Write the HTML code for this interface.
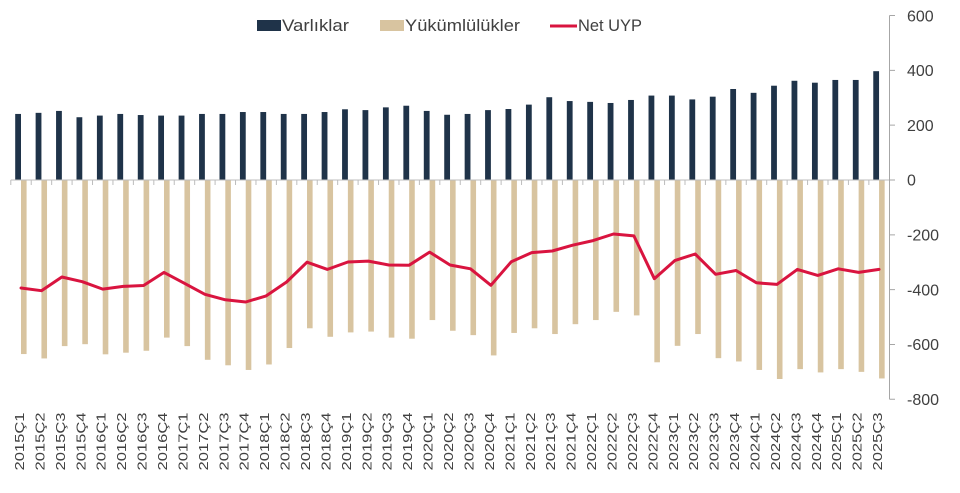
<!DOCTYPE html>
<html><head><meta charset="utf-8"><style>
html,body{margin:0;padding:0;background:#fff;}
svg{display:block;font-family:"Liberation Sans",sans-serif;}
</style></head><body>
<svg width="960" height="493" viewBox="0 0 960 493" xmlns="http://www.w3.org/2000/svg">
<rect width="960" height="493" fill="#fff"/>
<!-- legend -->
<rect x="257" y="20" width="24" height="11" fill="#1f3349"/>
<text x="282" y="31" font-size="17" fill="#404040" textLength="67" lengthAdjust="spacingAndGlyphs">Varlıklar</text>
<rect x="380" y="20" width="24" height="11" fill="#d8c4a0"/>
<text x="405" y="31" font-size="17" fill="#404040" textLength="115" lengthAdjust="spacingAndGlyphs">Yükümlülükler</text>
<line x1="550" y1="26" x2="577" y2="26" stroke="#d9143f" stroke-width="3"/>
<text x="578" y="31" font-size="17" fill="#404040" textLength="64" lengthAdjust="spacingAndGlyphs">Net UYP</text>

<!-- bars -->
<g transform="translate(0,180) scale(1,-0.2741)">
<g fill="#1f3349">
<rect x="15.2" y="0" width="5.8" height="241"/>
<rect x="35.63" y="0" width="5.8" height="245"/>
<rect x="56.06" y="0" width="5.8" height="252"/>
<rect x="76.49" y="0" width="5.8" height="229"/>
<rect x="96.92" y="0" width="5.8" height="235"/>
<rect x="117.35" y="0" width="5.8" height="241"/>
<rect x="137.78" y="0" width="5.8" height="237"/>
<rect x="158.21" y="0" width="5.8" height="235"/>
<rect x="178.64" y="0" width="5.8" height="235"/>
<rect x="199.07" y="0" width="5.8" height="241"/>
<rect x="219.5" y="0" width="5.8" height="241"/>
<rect x="239.93" y="0" width="5.8" height="248"/>
<rect x="260.36" y="0" width="5.8" height="248"/>
<rect x="280.79" y="0" width="5.8" height="241"/>
<rect x="301.22" y="0" width="5.8" height="241"/>
<rect x="321.65" y="0" width="5.8" height="248"/>
<rect x="342.08" y="0" width="5.8" height="258"/>
<rect x="362.51" y="0" width="5.8" height="255"/>
<rect x="382.94" y="0" width="5.8" height="265"/>
<rect x="403.37" y="0" width="5.8" height="271"/>
<rect x="423.8" y="0" width="5.8" height="252"/>
<rect x="444.23" y="0" width="5.8" height="238"/>
<rect x="464.66" y="0" width="5.8" height="241"/>
<rect x="485.09" y="0" width="5.8" height="255"/>
<rect x="505.52" y="0" width="5.8" height="259"/>
<rect x="525.95" y="0" width="5.8" height="275"/>
<rect x="546.38" y="0" width="5.8" height="302"/>
<rect x="566.81" y="0" width="5.8" height="288"/>
<rect x="587.24" y="0" width="5.8" height="285"/>
<rect x="607.67" y="0" width="5.8" height="281"/>
<rect x="628.1" y="0" width="5.8" height="292"/>
<rect x="648.53" y="0" width="5.8" height="308"/>
<rect x="668.96" y="0" width="5.8" height="308"/>
<rect x="689.39" y="0" width="5.8" height="294"/>
<rect x="709.82" y="0" width="5.8" height="304"/>
<rect x="730.25" y="0" width="5.8" height="332"/>
<rect x="750.68" y="0" width="5.8" height="318"/>
<rect x="771.11" y="0" width="5.8" height="344"/>
<rect x="791.54" y="0" width="5.8" height="362"/>
<rect x="811.97" y="0" width="5.8" height="355"/>
<rect x="832.4" y="0" width="5.8" height="365"/>
<rect x="852.83" y="0" width="5.8" height="365"/>
<rect x="873.26" y="0" width="5.8" height="397"/>
</g>
<g fill="#d8c4a0">
<rect x="21" y="-635" width="5.6" height="635"/>
<rect x="41.43" y="-651" width="5.6" height="651"/>
<rect x="61.86" y="-606" width="5.6" height="606"/>
<rect x="82.29" y="-599" width="5.6" height="599"/>
<rect x="102.72" y="-636" width="5.6" height="636"/>
<rect x="123.15" y="-630" width="5.6" height="630"/>
<rect x="143.58" y="-623" width="5.6" height="623"/>
<rect x="164.01" y="-575" width="5.6" height="575"/>
<rect x="184.44" y="-606" width="5.6" height="606"/>
<rect x="204.87" y="-656" width="5.6" height="656"/>
<rect x="225.3" y="-676" width="5.6" height="676"/>
<rect x="245.73" y="-693" width="5.6" height="693"/>
<rect x="266.16" y="-673" width="5.6" height="673"/>
<rect x="286.59" y="-613" width="5.6" height="613"/>
<rect x="307.02" y="-541" width="5.6" height="541"/>
<rect x="327.45" y="-572" width="5.6" height="572"/>
<rect x="347.88" y="-556" width="5.6" height="556"/>
<rect x="368.31" y="-553" width="5.6" height="553"/>
<rect x="388.74" y="-575" width="5.6" height="575"/>
<rect x="409.17" y="-579" width="5.6" height="579"/>
<rect x="429.6" y="-511" width="5.6" height="511"/>
<rect x="450.03" y="-550" width="5.6" height="550"/>
<rect x="470.46" y="-566" width="5.6" height="566"/>
<rect x="490.89" y="-640" width="5.6" height="640"/>
<rect x="511.32" y="-558" width="5.6" height="558"/>
<rect x="531.75" y="-541" width="5.6" height="541"/>
<rect x="552.18" y="-562" width="5.6" height="562"/>
<rect x="572.61" y="-526" width="5.6" height="526"/>
<rect x="593.04" y="-511" width="5.6" height="511"/>
<rect x="613.47" y="-481" width="5.6" height="481"/>
<rect x="633.9" y="-494" width="5.6" height="494"/>
<rect x="654.33" y="-665" width="5.6" height="665"/>
<rect x="674.76" y="-605" width="5.6" height="605"/>
<rect x="695.19" y="-562" width="5.6" height="562"/>
<rect x="715.62" y="-650" width="5.6" height="650"/>
<rect x="736.05" y="-662" width="5.6" height="662"/>
<rect x="756.48" y="-693" width="5.6" height="693"/>
<rect x="776.91" y="-726" width="5.6" height="726"/>
<rect x="797.34" y="-690" width="5.6" height="690"/>
<rect x="817.77" y="-702" width="5.6" height="702"/>
<rect x="838.2" y="-690" width="5.6" height="690"/>
<rect x="858.63" y="-700" width="5.6" height="700"/>
<rect x="879.06" y="-724" width="5.6" height="724"/>
</g>
</g>

<!-- x axis line and ticks -->
<g stroke="#bdbdbd" stroke-width="1">
<line x1="10.8" y1="180" x2="889.5" y2="180"/>
<path d="M10.8 180v5M31.23 180v5M51.66 180v5M72.09 180v5M92.52 180v5M112.95 180v5M133.38 180v5M153.81 180v5M174.24 180v5M194.67 180v5M215.1 180v5M235.53 180v5M255.96 180v5M276.39 180v5M296.82 180v5M317.25 180v5M337.68 180v5M358.11 180v5M378.54 180v5M398.97 180v5M419.4 180v5M439.83 180v5M460.26 180v5M480.69 180v5M501.12 180v5M521.55 180v5M541.98 180v5M562.41 180v5M582.84 180v5M603.27 180v5M623.7 180v5M644.13 180v5M664.56 180v5M684.99 180v5M705.42 180v5M725.85 180v5M746.28 180v5M766.71 180v5M787.14 180v5M807.57 180v5M828 180v5M848.43 180v5M868.86 180v5"/>
</g>
<!-- y axis -->
<g stroke="#a6a6a6" stroke-width="1">
<line x1="889.5" y1="15.5" x2="889.5" y2="399.3"/>
<path d="M889.5 15.54h5.5M889.5 70.36h5.5M889.5 125.18h5.5M889.5 180h5.5M889.5 234.82h5.5M889.5 289.64h5.5M889.5 344.46h5.5M889.5 399.28h5.5"/>
</g>
<g font-size="16" fill="#404040">
<text x="907" y="21.3">600</text>
<text x="907" y="76.1">400</text>
<text x="907" y="130.9">200</text>
<text x="907" y="185.7">0</text>
<text x="907" y="240.5">-200</text>
<text x="907" y="295.3">-400</text>
<text x="907" y="350.1">-600</text>
<text x="907" y="405">-800</text>
</g>

<!-- net line -->
<polyline fill="none" stroke="#d9143f" stroke-width="3" stroke-linejoin="round" stroke-linecap="round" points="21,288.0 41.43,290.7 61.86,277.0 82.29,281.7 102.72,289.1 123.15,286.4 143.58,285.5 164.01,272.4 184.44,283.3 204.87,294.3 225.3,299.8 245.73,302.0 266.16,295.9 286.59,282.0 307.02,262.2 327.45,269.4 347.88,262.0 368.31,261.1 388.74,265.0 409.17,265.2 429.6,252.1 450.03,265.0 470.46,268.8 490.89,285.3 511.32,261.7 531.75,252.6 552.18,251.0 572.61,245.2 593.04,240.6 613.47,234.0 633.9,235.9 654.33,278.7 674.76,260.6 695.19,254.0 715.62,274.3 736.05,270.5 756.48,282.8 776.91,284.4 797.34,269.4 817.77,275.4 838.2,268.8 858.63,272.4 879.06,269.4"/>

<!-- x labels -->
<g font-size="13" fill="#404040">
<text transform="translate(24,470.5) rotate(-90)" textLength="58" lengthAdjust="spacingAndGlyphs">2015Ç1</text>
<text transform="translate(44.43,470.5) rotate(-90)" textLength="58" lengthAdjust="spacingAndGlyphs">2015Ç2</text>
<text transform="translate(64.86,470.5) rotate(-90)" textLength="58" lengthAdjust="spacingAndGlyphs">2015Ç3</text>
<text transform="translate(85.29,470.5) rotate(-90)" textLength="58" lengthAdjust="spacingAndGlyphs">2015Ç4</text>
<text transform="translate(105.72,470.5) rotate(-90)" textLength="58" lengthAdjust="spacingAndGlyphs">2016Ç1</text>
<text transform="translate(126.15,470.5) rotate(-90)" textLength="58" lengthAdjust="spacingAndGlyphs">2016Ç2</text>
<text transform="translate(146.58,470.5) rotate(-90)" textLength="58" lengthAdjust="spacingAndGlyphs">2016Ç3</text>
<text transform="translate(167.01,470.5) rotate(-90)" textLength="58" lengthAdjust="spacingAndGlyphs">2016Ç4</text>
<text transform="translate(187.44,470.5) rotate(-90)" textLength="58" lengthAdjust="spacingAndGlyphs">2017Ç1</text>
<text transform="translate(207.87,470.5) rotate(-90)" textLength="58" lengthAdjust="spacingAndGlyphs">2017Ç2</text>
<text transform="translate(228.3,470.5) rotate(-90)" textLength="58" lengthAdjust="spacingAndGlyphs">2017Ç3</text>
<text transform="translate(248.73,470.5) rotate(-90)" textLength="58" lengthAdjust="spacingAndGlyphs">2017Ç4</text>
<text transform="translate(269.16,470.5) rotate(-90)" textLength="58" lengthAdjust="spacingAndGlyphs">2018Ç1</text>
<text transform="translate(289.59,470.5) rotate(-90)" textLength="58" lengthAdjust="spacingAndGlyphs">2018Ç2</text>
<text transform="translate(310.02,470.5) rotate(-90)" textLength="58" lengthAdjust="spacingAndGlyphs">2018Ç3</text>
<text transform="translate(330.45,470.5) rotate(-90)" textLength="58" lengthAdjust="spacingAndGlyphs">2018Ç4</text>
<text transform="translate(350.88,470.5) rotate(-90)" textLength="58" lengthAdjust="spacingAndGlyphs">2019Ç1</text>
<text transform="translate(371.31,470.5) rotate(-90)" textLength="58" lengthAdjust="spacingAndGlyphs">2019Ç2</text>
<text transform="translate(391.74,470.5) rotate(-90)" textLength="58" lengthAdjust="spacingAndGlyphs">2019Ç3</text>
<text transform="translate(412.17,470.5) rotate(-90)" textLength="58" lengthAdjust="spacingAndGlyphs">2019Ç4</text>
<text transform="translate(432.6,470.5) rotate(-90)" textLength="58" lengthAdjust="spacingAndGlyphs">2020Ç1</text>
<text transform="translate(453.03,470.5) rotate(-90)" textLength="58" lengthAdjust="spacingAndGlyphs">2020Ç2</text>
<text transform="translate(473.46,470.5) rotate(-90)" textLength="58" lengthAdjust="spacingAndGlyphs">2020Ç3</text>
<text transform="translate(493.89,470.5) rotate(-90)" textLength="58" lengthAdjust="spacingAndGlyphs">2020Ç4</text>
<text transform="translate(514.32,470.5) rotate(-90)" textLength="58" lengthAdjust="spacingAndGlyphs">2021Ç1</text>
<text transform="translate(534.75,470.5) rotate(-90)" textLength="58" lengthAdjust="spacingAndGlyphs">2021Ç2</text>
<text transform="translate(555.18,470.5) rotate(-90)" textLength="58" lengthAdjust="spacingAndGlyphs">2021Ç3</text>
<text transform="translate(575.61,470.5) rotate(-90)" textLength="58" lengthAdjust="spacingAndGlyphs">2021Ç4</text>
<text transform="translate(596.04,470.5) rotate(-90)" textLength="58" lengthAdjust="spacingAndGlyphs">2022Ç1</text>
<text transform="translate(616.47,470.5) rotate(-90)" textLength="58" lengthAdjust="spacingAndGlyphs">2022Ç2</text>
<text transform="translate(636.9,470.5) rotate(-90)" textLength="58" lengthAdjust="spacingAndGlyphs">2022Ç3</text>
<text transform="translate(657.33,470.5) rotate(-90)" textLength="58" lengthAdjust="spacingAndGlyphs">2022Ç4</text>
<text transform="translate(677.76,470.5) rotate(-90)" textLength="58" lengthAdjust="spacingAndGlyphs">2023Ç1</text>
<text transform="translate(698.19,470.5) rotate(-90)" textLength="58" lengthAdjust="spacingAndGlyphs">2023Ç2</text>
<text transform="translate(718.62,470.5) rotate(-90)" textLength="58" lengthAdjust="spacingAndGlyphs">2023Ç3</text>
<text transform="translate(739.05,470.5) rotate(-90)" textLength="58" lengthAdjust="spacingAndGlyphs">2023Ç4</text>
<text transform="translate(759.48,470.5) rotate(-90)" textLength="58" lengthAdjust="spacingAndGlyphs">2024Ç1</text>
<text transform="translate(779.91,470.5) rotate(-90)" textLength="58" lengthAdjust="spacingAndGlyphs">2024Ç2</text>
<text transform="translate(800.34,470.5) rotate(-90)" textLength="58" lengthAdjust="spacingAndGlyphs">2024Ç3</text>
<text transform="translate(820.77,470.5) rotate(-90)" textLength="58" lengthAdjust="spacingAndGlyphs">2024Ç4</text>
<text transform="translate(841.2,470.5) rotate(-90)" textLength="58" lengthAdjust="spacingAndGlyphs">2025Ç1</text>
<text transform="translate(861.63,470.5) rotate(-90)" textLength="58" lengthAdjust="spacingAndGlyphs">2025Ç2</text>
<text transform="translate(882.06,470.5) rotate(-90)" textLength="58" lengthAdjust="spacingAndGlyphs">2025Ç3</text>
</g>
</svg>
</body></html>
